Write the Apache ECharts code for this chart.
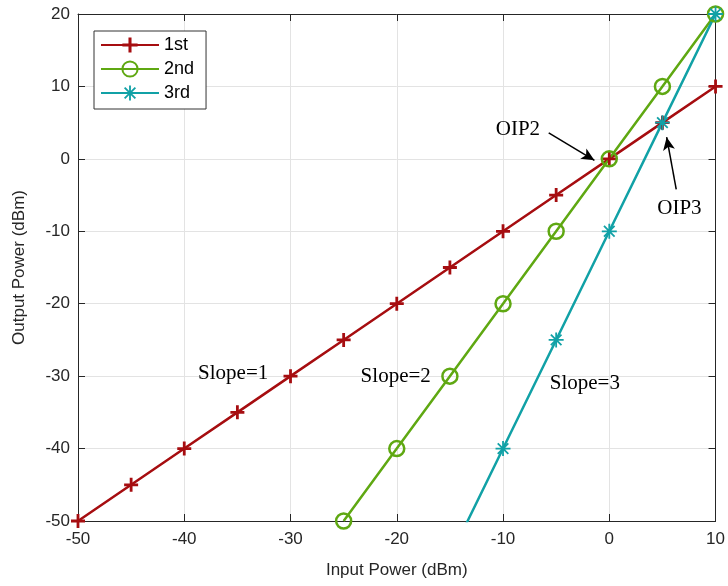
<!DOCTYPE html>
<html>
<head>
<meta charset="utf-8">
<script src="https://cdn.jsdelivr.net/npm/echarts@6/dist/echarts.min.js"></script>
<style>html,body{margin:0;padding:0;background:#fff}#c{width:728px;height:586px}</style>
</head>
<body>
<div id="c"></div>
<script>
// ---- data ----
const seriesNames = ['1st', '2nd', '3rd'];
const input1 = [-50, -45, -40, -35, -30, -25, -20, -15, -10, -5, 0, 5, 10];
const output1 = [-50, -45, -40, -35, -30, -25, -20, -15, -10, -5, 0, 5, 10];
const input2 = [-25, -20, -15, -10, -5, 0, 5, 10];
const output2 = [-50, -40, -30, -20, -10, 0, 10, 20];
const input3 = [-15, -10, -5, 0, 5, 10];
const output3 = [-55, -40, -25, -10, 5, 20];
const xTicks = [-50, -40, -30, -20, -10, 0, 10];
const yTicks = [-50, -40, -30, -20, -10, 0, 10, 20];
const slopeLabels = [
  { text: 'Slope=1', at: [-35.4, -29.7] },
  { text: 'Slope=2', at: [-20.1, -30.1] },
  { text: 'Slope=3', at: [-2.3, -31.0] }
];
const oipLabels = [
  { text: 'OIP2', at: [-8.6, 4.0] },
  { text: 'OIP3', at: [6.6, -6.8] }
];
const oipArrows = [
  { from: [-5.7, 3.6], to: [-1.4, -0.2] },
  { from: [6.3, -4.2], to: [5.4, 3.0] }
];

// ---- styles ----
const colors = ['#a60d10', '#5fa812', '#11a1a6'];
const axisColor = '#262626';
const plusPath = 'path://M4,0H6V4H10V6H6V10H4V6H0V4H4Z';
const starPath = 'path://M0,8.8H20V11.2H0Z M8.8,0H11.2V20H8.8Z M3.78,2.08L17.92,16.22L16.22,17.92L2.08,3.78Z M16.22,2.08L17.92,3.78L3.78,17.92L2.08,16.22Z';
const yMin = yTicks[0], yMax = yTicks[yTicks.length - 1];
const xMin = xTicks[0], xMax = xTicks[xTicks.length - 1];

function pairs(xs, ys) {
  return xs.map((x, i) => {
    const item = { value: [x, ys[i]] };
    if (ys[i] < yMin || ys[i] > yMax) item.symbol = 'none';
    return item;
  });
}

const chart = echarts.init(document.getElementById('c'), null, { renderer: 'canvas' });

const tickFont = { fontFamily: 'Liberation Sans', fontSize: 17, color: axisColor };
const baseAxis = {
  axisLine: { show: true, onZero: false, lineStyle: { color: axisColor, width: 1 } },
  axisTick: { show: true, inside: true, length: 7, lineStyle: { color: axisColor } },
  splitLine: { show: false },
  axisLabel: { show: false }
};

chart.setOption({
  animation: false,
  backgroundColor: '#fff',
  grid: { left: 78, right: 11, top: 14, bottom: 65, containLabel: false },
  legend: {
    data: seriesNames,
    orient: 'vertical',
    left: 94, top: 31,
    padding: [5, 12, 7, 6],
    itemGap: 6,
    itemWidth: 58, itemHeight: 19,
    backgroundColor: '#fff',
    borderColor: '#333', borderWidth: 1, borderRadius: 0,
    textStyle: { fontFamily: 'Liberation Sans', fontSize: 18, color: '#000' }
  },
  xAxis: [
    {
      type: 'value', min: xMin, max: xMax, interval: 10, position: 'bottom',
      axisLine: { show: true, onZero: false, lineStyle: { color: axisColor, width: 1 } },
      axisTick: { show: true, inside: true, length: 7, lineStyle: { color: axisColor } },
      splitLine: { show: true, lineStyle: { color: '#e3e3e3', width: 1 } },
      axisLabel: Object.assign({ margin: 10 }, tickFont),
      name: 'Input Power (dBm)', nameLocation: 'middle', nameGap: 41,
      nameTextStyle: { fontFamily: 'Liberation Sans', fontSize: 17, color: axisColor }
    },
    Object.assign({ type: 'value', min: xMin, max: xMax, interval: 10, position: 'top' }, baseAxis)
  ],
  yAxis: [
    {
      type: 'value', min: yMin, max: yMax, interval: 10, position: 'left',
      axisLine: { show: true, onZero: false, lineStyle: { color: axisColor, width: 1 } },
      axisTick: { show: true, inside: true, length: 7, lineStyle: { color: axisColor } },
      splitLine: { show: true, lineStyle: { color: '#e3e3e3', width: 1 } },
      axisLabel: Object.assign({ margin: 8 }, tickFont),
      name: 'Output Power (dBm)', nameLocation: 'middle', nameGap: 50,
      nameTextStyle: { fontFamily: 'Liberation Sans', fontSize: 17, color: axisColor }
    },
    Object.assign({ type: 'value', min: yMin, max: yMax, interval: 10, position: 'right' }, baseAxis)
  ],
  series: [
    {
      name: seriesNames[0], type: 'line', clip: true,
      data: pairs(input1, output1),
      symbol: plusPath, symbolSize: 14,
      lineStyle: { color: colors[0], width: 2.5 },
      itemStyle: { color: colors[0] },
      markPoint: {
        symbol: 'circle', symbolSize: 1,
        itemStyle: { color: 'rgba(0,0,0,0)' },
        label: {
          show: true, position: 'inside',
          fontFamily: 'Liberation Serif', fontSize: 21, color: '#000',
          formatter: p => p.name
        },
        data: slopeLabels.concat(oipLabels).map(l => ({ name: l.text, coord: l.at }))
      },
      markLine: {
        silent: true,
        symbol: ['none', 'arrow'], symbolSize: [9, 13],
        lineStyle: { color: '#000', width: 1.5, type: 'solid' },
        label: { show: false },
        data: oipArrows.map(a => [{ coord: a.from }, { coord: a.to }])
      }
    },
    {
      name: seriesNames[1], type: 'line', clip: true,
      data: pairs(input2, output2),
      symbol: 'circle', symbolSize: 15,
      lineStyle: { color: colors[1], width: 2.5 },
      itemStyle: { color: 'rgba(255,255,255,0)', borderColor: colors[1], borderWidth: 2.5 }
    },
    {
      name: seriesNames[2], type: 'line', clip: true,
      data: pairs(input3, output3),
      symbol: starPath, symbolSize: 15,
      lineStyle: { color: colors[2], width: 2.5 },
      itemStyle: { color: colors[2] }
    }
  ]
});
</script>
</body>
</html>
